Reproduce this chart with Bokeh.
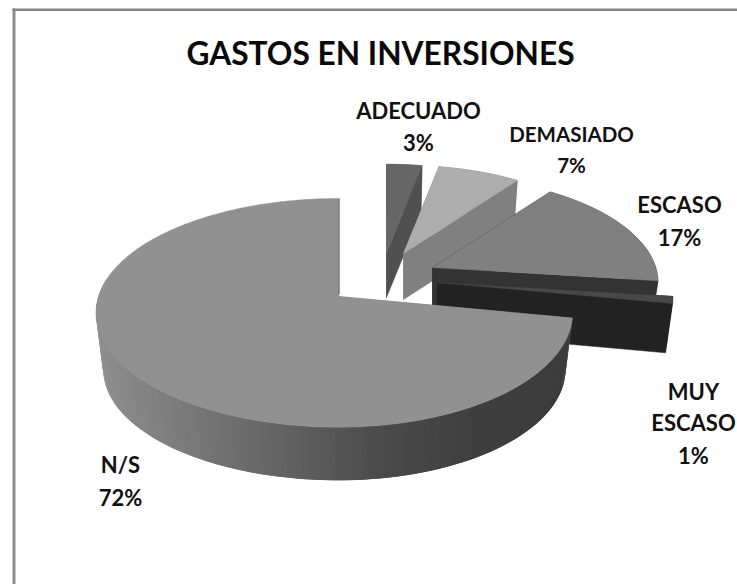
import math
from bokeh.plotting import figure
from bokeh.models import Range1d
from bokeh.embed import file_html
from bokeh.resources import INLINE
from bokeh.core.properties import value

# ---- data
categories = ["ADECUADO", "DEMASIADO", "ESCASO", "MUY ESCASO", "N/S"]
percents = [3, 7, 17, 1, 72]
title_text = "GASTOS EN INVERSIONES"

# ---- styles
top_colors = ["#666666", "#adadad", "#808080", "#484848", "#919191"]
cut_colors = ["#505050", "#808080", "#333333", "#222222", "#7a7a7a"]
rim_colors = ["#555555", "#909090", "#333333", "#222222", None]

# ---- layout in page pixels: explosion apex, slice scale, right-side scale, thickness
apex = [(386, 252), (403, 253), (432, 267), (437, 282), (338, 296)]
scale = [0.90, 0.90, 0.93, 0.97, 1.0]
right_scale = [1.0, 1.0, 1.0, 1.0, 0.965]
depth = [45, 46, 43, 50, 57]
RX, RY, K, BOTTOM = 240, 112, 0.143, 0.97

W, H = 737, 584
p = figure(width=W, height=H, output_backend="svg", toolbar_location=None,
           x_range=Range1d(0, W), y_range=Range1d(H, 0),
           min_border=0, outline_line_color=None, background_fill_color="white")
p.axis.visible = False
p.grid.visible = False


def project(i, deg, r=1.0, bottom=False):
    t = math.radians(deg)
    u, v = r * math.sin(t), r * math.cos(t)
    w = 1 + K * v
    s = scale[i] * (BOTTOM if bottom else 1.0)
    if u > 0:
        s_x = s * right_scale[i]
    else:
        s_x = s
    ax, ay = apex[i]
    return ax + s_x * RX * u / w, ay + (depth[i] if bottom else 0) - s * RY * v / w


def arc(start, end, step=1.0):
    n = max(2, int(abs(end - start) / step) + 1)
    return [start + (end - start) * j / (n - 1) for j in range(n)]


def wall_gray(x):
    stops = [(100, 0x8e), (240, 0x6c), (380, 0x4a), (470, 0x3f), (580, 0x3b)]
    for (x0, g0), (x1, g1) in zip(stops, stops[1:]):
        if x <= x1:
            g = g0 + (g1 - g0) * max(0, x - x0) / (x1 - x0)
            break
    else:
        g = stops[-1][1]
    g = int(round(g))
    return f"#{g:02x}{g:02x}{g:02x}"


total = sum(percents)
angle = 0.0
for i, pct in enumerate(percents):
    start, end = angle, angle + 360.0 * pct / total
    angle = end
    angs = arc(start, end)

    # curved outer wall of the slices that face away: behind their cut faces
    if rim_colors[i] is not None:
        xs = [project(i, a)[0] for a in angs] + [project(i, a, bottom=True)[0] for a in reversed(angs)]
        ys = [project(i, a)[1] for a in angs] + [project(i, a, bottom=True)[1] for a in reversed(angs)]
        p.patch(xs, ys, fill_color=rim_colors[i], line_color=rim_colors[i], line_width=0.5)

    # straight cut faces
    for deg in (start, end):
        a = project(i, deg)
        b = project(i, deg, bottom=True)
        c = project(i, deg, 0.0, bottom=True)
        d = project(i, deg, 0.0)
        xs, ys = zip(a, b, c, d)
        p.patch(list(xs), list(ys), fill_color=cut_colors[i], line_color=cut_colors[i], line_width=0.5)

    # curved front wall with its gradient: overlapping bands, so no seams show
    if rim_colors[i] is None:
        for a0, a1 in zip(angs, angs[1:]):
            if math.cos(math.radians((a0 + a1) / 2)) > 0.15:
                continue
            a2 = a1 + 1.0
            pts = [project(i, a0), project(i, a2),
                   project(i, a2, bottom=True), project(i, a0, bottom=True)]
            c = wall_gray(sum(q[0] for q in pts) / 4)
            p.patch([q[0] for q in pts], [q[1] for q in pts], fill_color=c, line_color=None)

    # top face
    pts = [project(i, a) for a in angs] + [project(i, end, 0.0)]
    p.patch([q[0] for q in pts], [q[1] for q in pts],
            fill_color=top_colors[i], line_color=top_colors[i], line_width=0.5)

    if i == len(percents) - 1:
        e0, e1 = project(i, end), project(i, end, 0.0)
        p.line([e0[0] + 0.5, e1[0] + 0.5], [e0[1], e1[1] - 2], line_color="#7a7a7a", line_width=1.5)

# frame: only the top and left edges show in the crop
p.line([13.5, 13.5], [8, H], line_color="#8c8c8c", line_width=3)
p.line([12, W], [9.3, 9.3], line_color="#868686", line_width=2.6)

FONT = value("Lato")
p.text([380], [52], text=[title_text], text_font=FONT, text_font_style="bold",
       text_font_size="31.7px", text_color="#0a0a0a", text_align="center", text_baseline="middle")

label_lines = [
    ([categories[0]], f"{percents[0]}%"),
    ([categories[1]], f"{percents[1]}%"),
    ([categories[2]], f"{percents[2]}%"),
    (categories[3].split(" "), f"{percents[3]}%"),
    ([categories[4]], f"{percents[4]}%"),
]
label_x = [418, 571, 679, 693, 120]
label_y = [[110, 142], [133, 164], [204, 237], [391, 422, 455], [464, 497]]
label_size = ["22px", "20.5px", "22px", "22px", "22px"]
for names, pct_text, x, ys, size in zip([l[0] for l in label_lines], [l[1] for l in label_lines],
                                        label_x, label_y, label_size):
    lines = names + [pct_text]
    p.text([x] * len(lines), ys, text=lines, text_font=FONT, text_font_style="bold",
           text_font_size=size, text_color="#111111", text_align="center", text_baseline="middle")

open("out.html", "w").write(file_html(p, INLINE))
